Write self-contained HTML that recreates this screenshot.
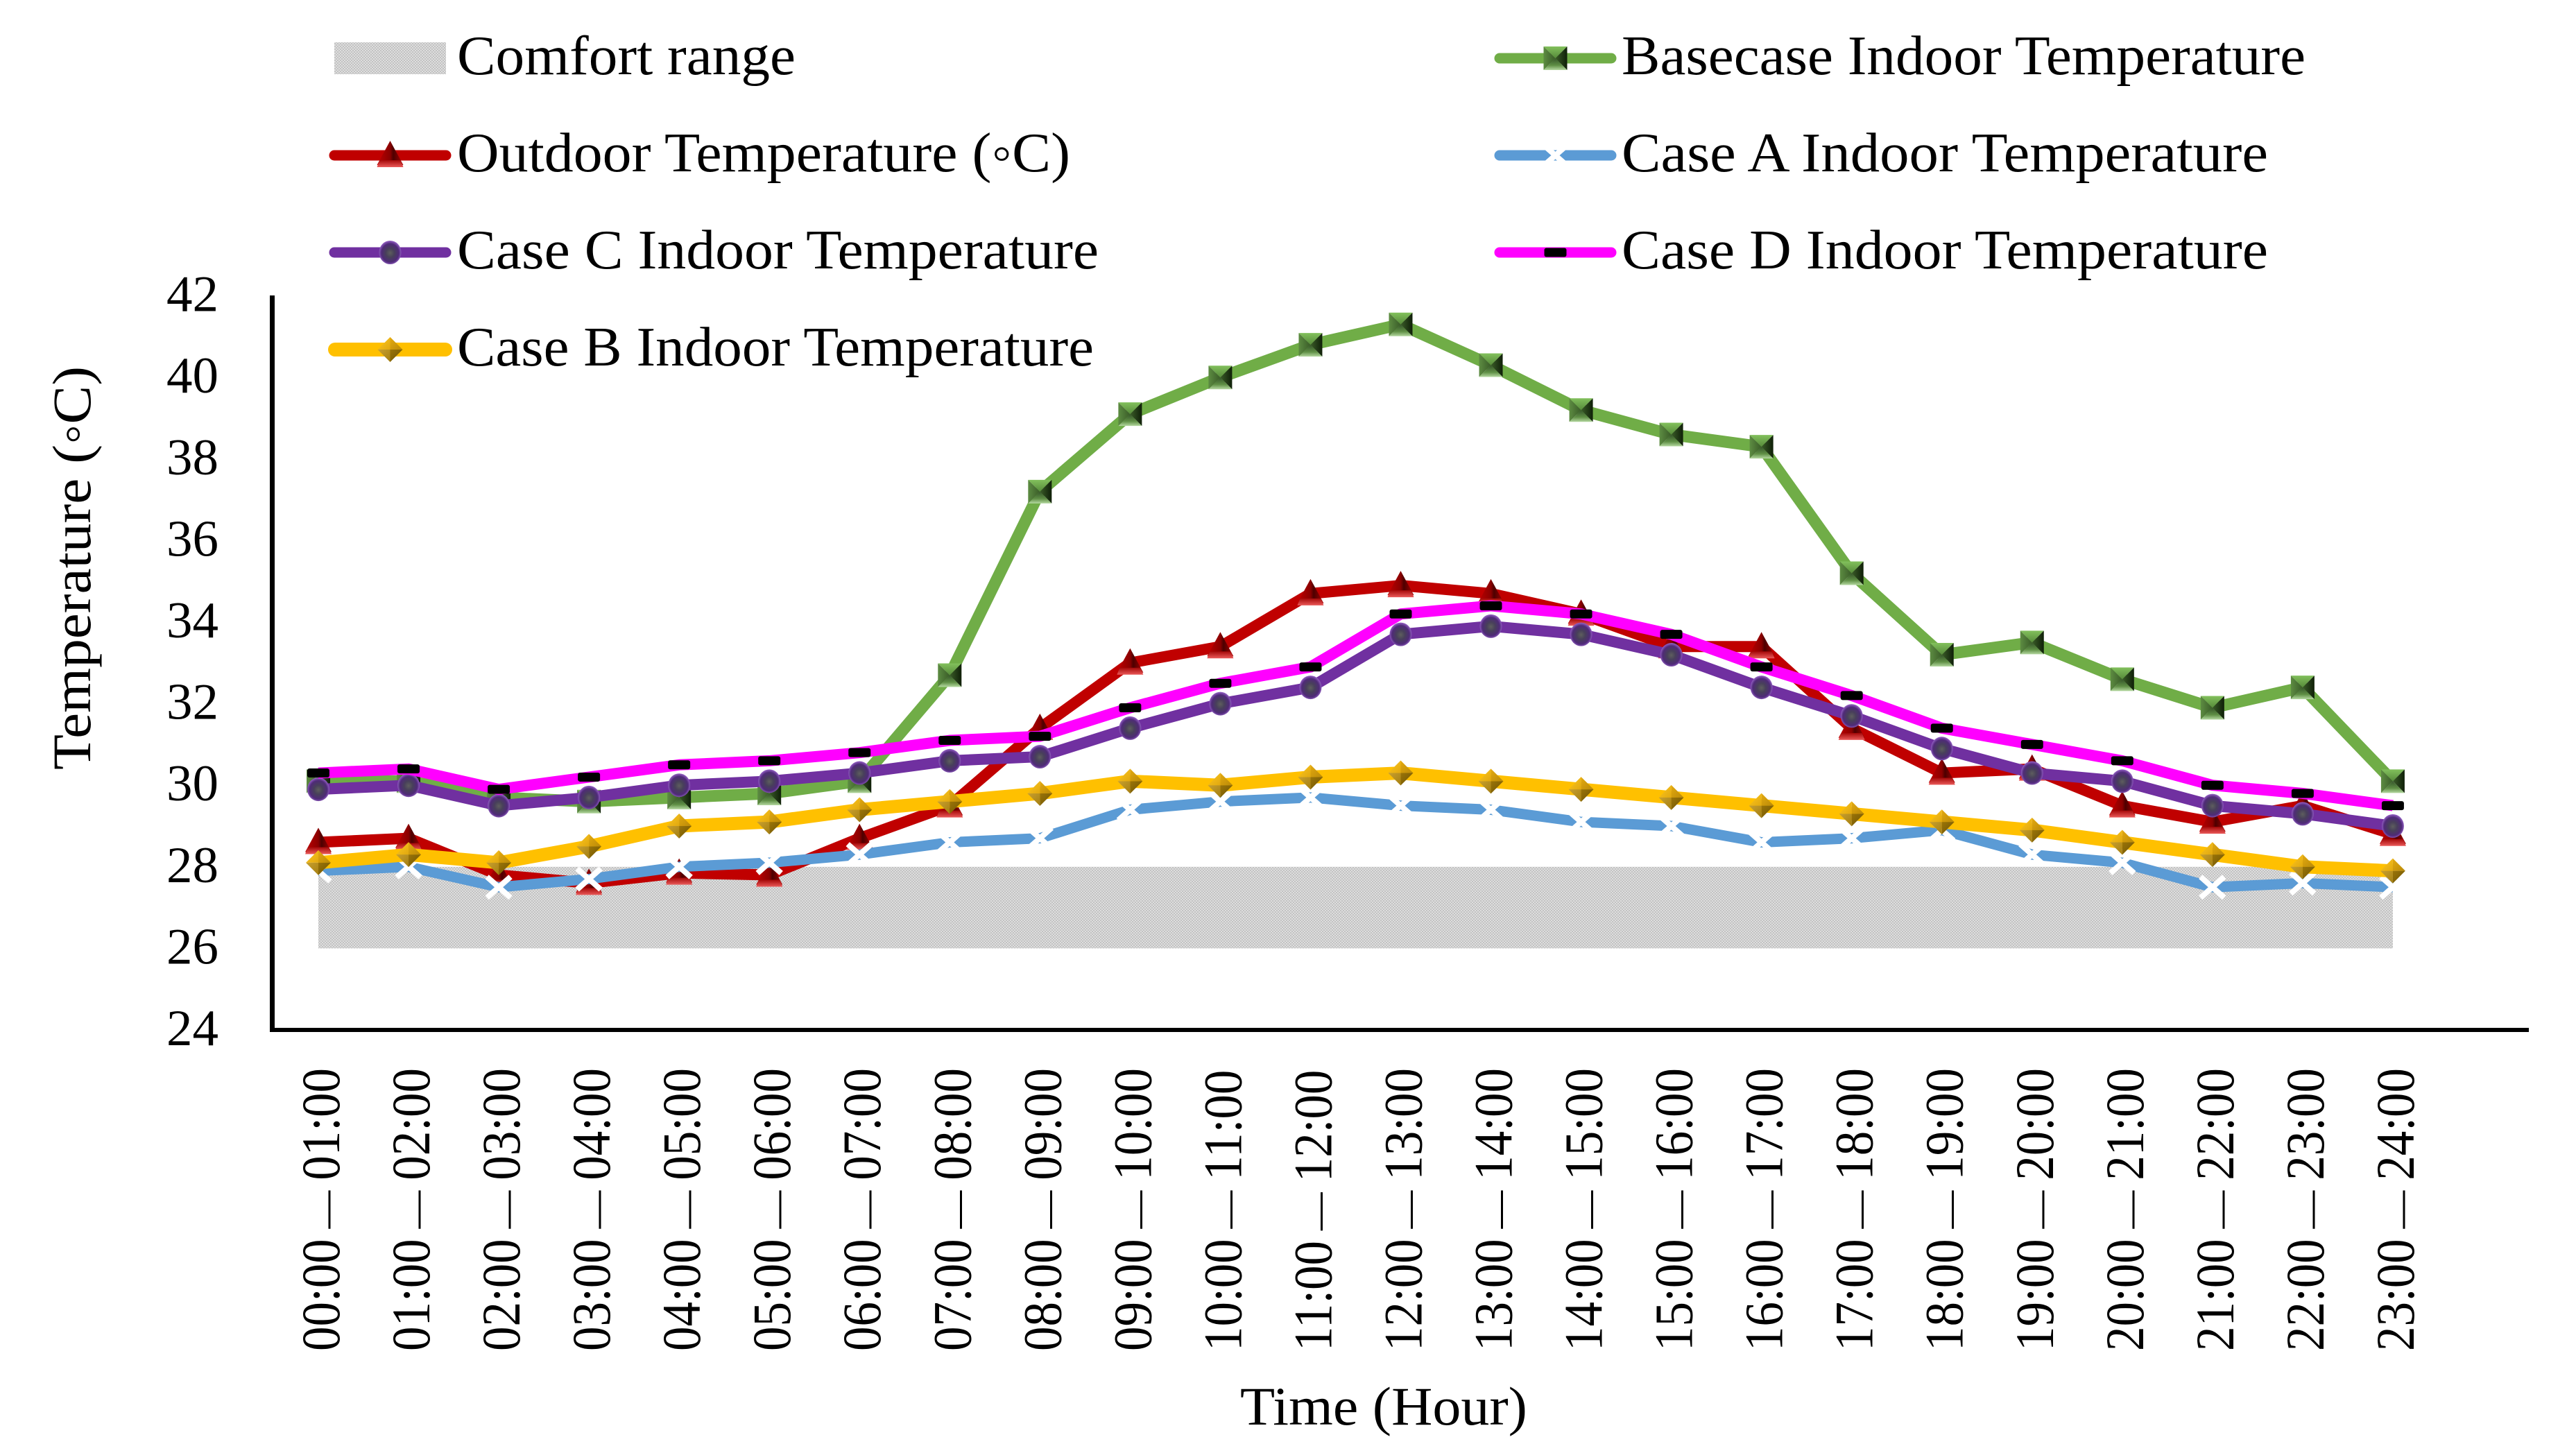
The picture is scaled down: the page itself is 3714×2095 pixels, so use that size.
<!DOCTYPE html>
<html lang="en">
<head>
<meta charset="utf-8">
<title>Temperature chart</title>
<style>
html,body{margin:0;padding:0;background:#fff;}
svg{display:block;}
text{font-family:"Liberation Serif","DejaVu Serif",serif;fill:#000;}
</style>
</head>
<body>
<svg id="chart" xmlns="http://www.w3.org/2000/svg" width="3714" height="2095" viewBox="0 0 3714 2095">
  <defs>
    <pattern id="dither" width="4" height="4" patternUnits="userSpaceOnUse">
      <rect width="4" height="4" fill="#dedede"/>
      <rect width="2" height="2" fill="#c2c2c2"/>
      <rect x="2" y="2" width="2" height="2" fill="#c2c2c2"/>
    </pattern>
    <linearGradient id="gSqTop" x1="0" y1="0" x2="0" y2="1"><stop offset="0" stop-color="#82c05c"/><stop offset="1" stop-color="#568a3a"/></linearGradient>
    <linearGradient id="gSqLeft" x1="0" y1="0" x2="1" y2="0"><stop offset="0" stop-color="#5d8c42"/><stop offset="1" stop-color="#3a5c28"/></linearGradient>
    <linearGradient id="gSqRight" x1="0" y1="0" x2="1" y2="0"><stop offset="0" stop-color="#3a5c28"/><stop offset="1" stop-color="#0f1f08"/></linearGradient>
    <linearGradient id="gSqBottom" x1="0" y1="0" x2="0" y2="1"><stop offset="0" stop-color="#35542a"/><stop offset="0.6" stop-color="#5f8f45"/><stop offset="1" stop-color="#b4d8a0"/></linearGradient>
    <linearGradient id="gTri" x1="0" y1="0" x2="1" y2="0"><stop offset="0" stop-color="#c00000"/><stop offset="0.5" stop-color="#8a0000"/><stop offset="0.62" stop-color="#4d0000"/><stop offset="1" stop-color="#a80000"/></linearGradient>
    <linearGradient id="gTriBase" x1="0" y1="0" x2="0" y2="1"><stop offset="0" stop-color="#a50808"/><stop offset="1" stop-color="#ea5a5a"/></linearGradient>
    <radialGradient id="gSphere" cx="0.5" cy="0.52" r="0.5"><stop offset="0" stop-color="#5e5e5e"/><stop offset="0.38" stop-color="#48405a"/><stop offset="0.78" stop-color="#4f2a78"/><stop offset="1" stop-color="#8c5abc"/></radialGradient>
    <linearGradient id="gDiaTL" x1="0" y1="0" x2="1" y2="1"><stop offset="0" stop-color="#ffc81e"/><stop offset="1" stop-color="#e0a810"/></linearGradient>
    <linearGradient id="gDiaTR" x1="0" y1="0" x2="1" y2="1"><stop offset="0" stop-color="#e4aa10"/><stop offset="1" stop-color="#b98908"/></linearGradient>
    <linearGradient id="gDiaBL" x1="0" y1="0" x2="1" y2="1"><stop offset="0" stop-color="#c8a030"/><stop offset="1" stop-color="#a57f10"/></linearGradient>
    <linearGradient id="gDiaBR" x1="0" y1="0" x2="1" y2="1"><stop offset="0" stop-color="#9a7408"/><stop offset="1" stop-color="#6e5404"/></linearGradient>
  </defs>

  <g id="plot"></g>

  <line x1="392.5" y1="426" x2="392.5" y2="1488" stroke="#000" stroke-width="7"/>
  <line x1="389" y1="1485" x2="3646" y2="1485" stroke="#000" stroke-width="6"/>

  <g id="yticks"></g>
  <g id="xticks"></g>

  <text transform="translate(130,1110) rotate(-90)" font-size="78" textLength="582" lengthAdjust="spacingAndGlyphs">Temperature (◦C)</text>
  <text x="1788" y="2054" font-size="78" textLength="414" lengthAdjust="spacingAndGlyphs">Time (Hour)</text>

  <g id="legend">
    <rect x="482" y="61" width="161" height="46" fill="url(#dither)"/>
    <text x="659" y="107" font-size="80" textLength="488" lengthAdjust="spacingAndGlyphs">Comfort range</text>
    <text x="659" y="247" font-size="80" textLength="884" lengthAdjust="spacingAndGlyphs">Outdoor Temperature (◦C)</text>
    <text x="659" y="387" font-size="80" textLength="925" lengthAdjust="spacingAndGlyphs">Case C Indoor Temperature</text>
    <text x="659" y="527" font-size="80" textLength="918" lengthAdjust="spacingAndGlyphs">Case B Indoor Temperature</text>
    <text x="2338" y="107" font-size="80" textLength="986" lengthAdjust="spacingAndGlyphs">Basecase Indoor Temperature</text>
    <text x="2338" y="247" font-size="80" textLength="932" lengthAdjust="spacingAndGlyphs">Case A Indoor Temperature</text>
    <text x="2338" y="387" font-size="80" textLength="932" lengthAdjust="spacingAndGlyphs">Case D Indoor Temperature</text>
  </g>
</svg>
<script>
const categories = ["00:00—01:00","01:00—02:00","02:00—03:00","03:00—04:00","04:00—05:00","05:00—06:00","06:00—07:00","07:00—08:00","08:00—09:00","09:00—10:00","10:00—11:00","11:00—12:00","12:00—13:00","13:00—14:00","14:00—15:00","15:00—16:00","16:00—17:00","17:00—18:00","18:00—19:00","19:00—20:00","20:00—21:00","21:00—22:00","22:00—23:00","23:00—24:00"];
const yTicks = [24,26,28,30,32,34,36,38,40,42];
const comfortLow = 26;
const comfortHigh = 28;
const basecase = [30.1,30.1,29.7,29.6,29.7,29.8,30.1,32.7,37.2,39.1,40,40.8,41.3,40.3,39.2,38.6,38.3,35.2,33.2,33.5,32.6,31.9,32.4,30.1];
const outdoor = [28.6,28.7,27.8,27.6,27.85,27.8,28.7,29.5,31.4,33,33.4,34.7,34.9,34.7,34.2,33.4,33.4,31.4,30.3,30.4,29.5,29.1,29.5,28.8];
const caseA = [27.9,28,27.5,27.7,28,28.1,28.3,28.6,28.7,29.4,29.6,29.7,29.5,29.4,29.1,29,28.6,28.7,28.9,28.3,28.1,27.5,27.6,27.5];
const caseC = [29.9,30,29.5,29.7,30,30.1,30.3,30.6,30.7,31.4,32,32.4,33.7,33.9,33.7,33.2,32.4,31.7,30.9,30.3,30.1,29.5,29.3,29];
const caseD = [30.3,30.4,29.9,30.2,30.5,30.6,30.8,31.1,31.2,31.9,32.5,32.9,34.2,34.4,34.2,33.7,32.9,32.2,31.4,31,30.6,30,29.8,29.5];
const caseB = [28.1,28.3,28.1,28.5,29,29.1,29.4,29.6,29.8,30.1,30,30.2,30.3,30.1,29.9,29.7,29.5,29.3,29.1,28.9,28.6,28.3,28,27.9];

const NS = "http://www.w3.org/2000/svg";
function xPos(i){ return 459 + i * 130.04; }
function yPos(v){ return 1485 - (v - 24) * 58.8; }
function make(tag, attrs, parent){
  const el = document.createElementNS(NS, tag);
  for (const k in attrs) el.setAttribute(k, attrs[k]);
  parent.appendChild(el);
  return el;
}
function poly(g, pts, fill){ make("polygon", {points: pts.map(p => p.join(",")).join(" "), fill: fill}, g); }

function drawSquare(g, x, y){
  const a = 17, b = 17;
  const tl=[x-a,y-b], tr=[x+a,y-b], bl=[x-a,y+b], br=[x+a,y+b], c=[x,y];
  poly(g,[tl,tr,c],"url(#gSqTop)");
  poly(g,[tl,bl,c],"url(#gSqLeft)");
  poly(g,[tr,br,c],"url(#gSqRight)");
  poly(g,[bl,br,c],"url(#gSqBottom)");
}
function drawTriangle(g, x, y){
  poly(g,[[x,y-21],[x+19,y+14],[x-19,y+14]],"url(#gTri)");
  poly(g,[[x-15,y+7],[x+15,y+7],[x+19,y+17],[x-19,y+17]],"url(#gTriBase)");
}
function drawCross(g, x, y){
  const a = 17, b = 15;
  make("line",{x1:x-a,y1:y-b,x2:x+a,y2:y+b,stroke:"#fff","stroke-width":8},g);
  make("line",{x1:x+a,y1:y-b,x2:x-a,y2:y+b,stroke:"#fff","stroke-width":8},g);
}
function drawSphere(g, x, y){
  make("ellipse",{cx:x,cy:y,rx:16,ry:17,fill:"url(#gSphere)"},g);
}
function drawDash(g, x, y){
  make("rect",{x:x-16,y:y-6.5,width:32,height:13,rx:3,fill:"#000"},g);
}
function drawDiamond(g, x, y){
  const r = 18, s = 18, t=[x,y-s], b=[x,y+s], l=[x-r,y], rt=[x+r,y], c=[x,y];
  poly(g,[t,l,c],"url(#gDiaTL)");
  poly(g,[t,rt,c],"url(#gDiaTR)");
  poly(g,[b,l,c],"url(#gDiaBL)");
  poly(g,[b,rt,c],"url(#gDiaBR)");
}

const plot = document.getElementById("plot");
const legend = document.getElementById("legend");

const band = make("rect",{x:xPos(0),y:yPos(comfortHigh),width:xPos(categories.length-1)-xPos(0),height:yPos(comfortLow)-yPos(comfortHigh),fill:"url(#dither)"},plot);



function drawSeries(values, color, width, markerFn, seriesName){
  const g = make("g",{},plot);
  
  
  const path = make("polyline",{points:values.map((v,i)=>xPos(i)+","+yPos(v)).join(" "),fill:"none",stroke:color,"stroke-width":width,"stroke-linejoin":"round"},g);
  
  
  values.forEach((v,i)=>{
    const m = make("g",{},g);
    
    
    markerFn(m,xPos(i),yPos(v));
  });
}
drawSeries(basecase,"#70ad47",17,drawSquare,"series-basecase");
drawSeries(outdoor,"#c00000",16,drawTriangle,"series-outdoor");
drawSeries(caseA,"#5b9bd5",15,drawCross,"series-case-a");
drawSeries(caseC,"#7030a0",16,drawSphere,"series-case-c");
drawSeries(caseD,"#ff00ff",16,drawDash,"series-case-d");
drawSeries(caseB,"#ffc000",19,drawDiamond,"series-case-b");

function legendKey(x1, x2, y, color, width, markerFn, keyName){
  const g = make("g",{},legend);
  
  
  make("line",{x1:x1,y1:y,x2:x2,y2:y,stroke:color,"stroke-width":width,"stroke-linecap":"round"},g);
  markerFn(g,(x1+x2)/2,y);
}
legendKey(482,643,224,"#c00000",15,drawTriangle,"legend-key-outdoor");
legendKey(482,643,364,"#7030a0",15,drawSphere,"legend-key-case-c");
legendKey(483,642,504,"#ffc000",20,drawDiamond,"legend-key-case-b");
legendKey(2162,2323,84,"#70ad47",15,drawSquare,"legend-key-basecase");
legendKey(2162,2323,224,"#5b9bd5",15,drawCross,"legend-key-case-a");
legendKey(2162,2323,364,"#ff00ff",15,drawDash,"legend-key-case-d");

const yTickGroup = document.getElementById("yticks");
yTicks.forEach(v=>{
  const t = make("text",{x:240,y:yPos(v)+22,"font-size":74,textLength:75,lengthAdjust:"spacingAndGlyphs"},yTickGroup);
  
  
  t.textContent = String(v);
});
const xTickGroup = document.getElementById("xticks");
categories.forEach((c,i)=>{
  const t = make("text",{transform:"translate("+(xPos(i)+30)+",1948) rotate(-90) scale(0.91,1)","font-size":78},xTickGroup);
  
  
  const parts = c.split("—");
  make("tspan",{},t).textContent = parts[0];
  make("tspan",{dx:16.5,"font-size":60},t).textContent = "—";
  make("tspan",{dx:16.5},t).textContent = parts[1];
});
</script>
</body>
</html>
